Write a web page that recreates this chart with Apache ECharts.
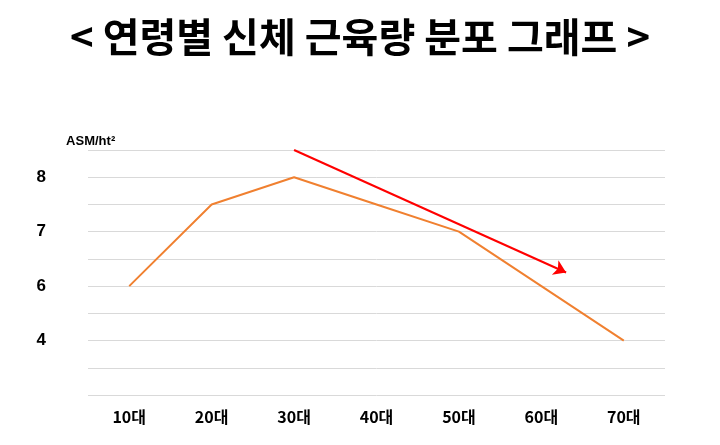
<!DOCTYPE html><html><head><meta charset="utf-8"><script src="https://cdn.jsdelivr.net/npm/echarts@6/dist/echarts.min.js"></script>
<style>body{margin:0}#c{width:720px;height:445px}</style></head><body><div id="c"></div><script>
const categories=['10대','20대','30대','40대','50대','60대','70대'];
const values=[6,7.5,8,7.5,7,6,5];
const tickLabels={8:'8',7:'7',6:'6',5:'4'};
const arrowStart=[2,8.5], arrowEnd=[5.3,6.25];
const c=echarts.init(document.getElementById('c'));
c.setOption({
 title:{text:'< 연령별 신체 근육량 분포 그래프 >',left:'center',top:12,textStyle:{fontSize:40,fontWeight:'bold',color:'#000',fontFamily:'Noto Sans CJK KR'}},
 grid:{left:88,right:55,top:150,bottom:50},
 xAxis:[{type:'category',data:categories,axisLine:{show:false},axisTick:{show:false},axisLabel:{fontSize:16,fontWeight:'bold',color:'#000',margin:14,fontFamily:'Noto Sans CJK KR'}},
  {type:'value',min:-0.5,max:6.5,show:false}],
 yAxis:{type:'value',min:4,max:8.5,interval:0.5,name:'ASM/ht²',nameLocation:'end',nameGap:2,nameTextStyle:{fontSize:13,fontWeight:'bold',color:'#000',align:'right',padding:[0,14,0,0]},
  axisLine:{show:false},axisTick:{show:false},splitLine:{lineStyle:{color:'#d9d9d9'}},
  axisLabel:{fontSize:17,fontWeight:'bold',color:'#000',margin:42,formatter:v=>tickLabels[v]||''}},
 series:[{type:'line',data:values,symbol:'none',lineStyle:{color:'#f08030',width:2}},
  {type:'line',xAxisIndex:1,data:[[2,8.5]],symbol:'none',clip:false,lineStyle:{opacity:0},markLine:{silent:true,symbol:['none','none'],label:{show:false},
   data:[[{coord:[2,3.95],lineStyle:{color:'#f0e020',type:'dashed',width:3}},{coord:[2,9.9]}]]}},
  {type:'line',xAxisIndex:1,data:[[2,8.5]],symbol:'none',lineStyle:{opacity:0},markLine:{silent:true,symbol:['none','arrow'],symbolSize:12,label:{show:false},
   data:[[{coord:arrowStart,lineStyle:{color:'#ff0000',width:2,type:'solid'}},{coord:arrowEnd}]]}}]
});
</script></body></html>
